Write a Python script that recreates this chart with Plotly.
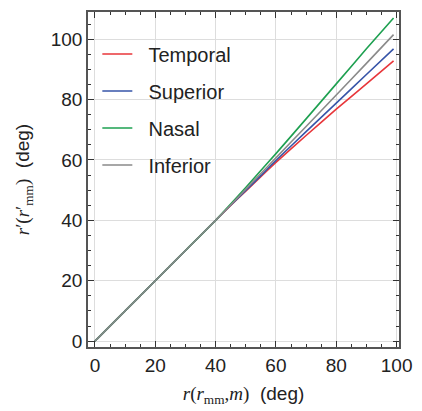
import plotly.graph_objects as go

# Data
r = [0, 10, 20, 30, 40, 45, 50, 55, 60, 70, 80, 90, 99]
temporal = [0, 10, 20, 30, 40, 44.9, 49.7, 54.5, 59.2, 68.1, 76.8, 85.2, 92.8]
superior = [0, 10, 20, 30, 40, 45.0, 49.9, 54.8, 59.8, 69.4, 78.8, 88.3, 96.8]
nasal = [0, 10, 20, 30, 40, 45.4, 50.9, 56.5, 62.1, 73.6, 85.2, 96.8, 107.0]
inferior = [0, 10, 20, 30, 40, 45.1, 50.3, 55.5, 60.7, 71.1, 81.5, 92.0, 101.5]

names = ["Temporal", "Superior", "Nasal", "Inferior"]
series = [temporal, superior, nasal, inferior]
colors = ["#e8363a", "#3654a8", "#1da050", "#8a8a8a"]

fig = go.Figure()
for n, s, c in zip(names, series, colors):
    fig.add_trace(go.Scatter(x=r, y=s, mode="lines", name="\u00a0\u00a0" + n, legendgroup=n,
                             line=dict(color=c, width=1.6, shape="spline", smoothing=0.6)))

axis_common = dict(
    showline=True, linecolor="#555555", linewidth=1.5, mirror="allticks",
    ticks="inside", ticklen=6, tickwidth=1.2, tickcolor="#333333",
    showgrid=True, gridcolor="#dddddd", gridwidth=1, zeroline=False,
    tickfont=dict(family="Liberation Sans, Arial", size=19, color="#222222"),
    minor=dict(dtick=5, ticks="inside", ticklen=3, tickwidth=1, tickcolor="#333333", showgrid=False),
    dtick=20,
)

fig.update_layout(
    width=422, height=411,
    margin=dict(l=88, r=17, t=10, b=60),
    paper_bgcolor="white", plot_bgcolor="white",
    showlegend=True,
    legend=dict(x=0.03, y=0.933, xanchor="left", yanchor="top",
                font=dict(family="Liberation Sans, Arial", size=20, color="#222222"),
                bgcolor="rgba(0,0,0,0)", tracegroupgap=8, itemwidth=30),
    xaxis=dict(range=[-2.3, 100.8], tick0=0,
               title=dict(text='<span style="font-family:Liberation Serif"><i>r</i>(<i>r</i><sub>mm</sub>,<i>m</i>)</span>  (deg)',
                          font=dict(family="Liberation Sans, Arial", size=19, color="#222222"),
                          standoff=12),
               **axis_common),
    yaxis=dict(range=[-1.95, 109], tick0=0,
               title=dict(text='<span style="font-family:Liberation Serif"><i>r</i>\u2032(<i>r</i>\u2032<sub>mm</sub>)</span>  (deg)',
                          font=dict(family="Liberation Sans, Arial", size=19, color="#222222"),
                          standoff=16),
               **axis_common),
)

fig.write_html("out.html")
